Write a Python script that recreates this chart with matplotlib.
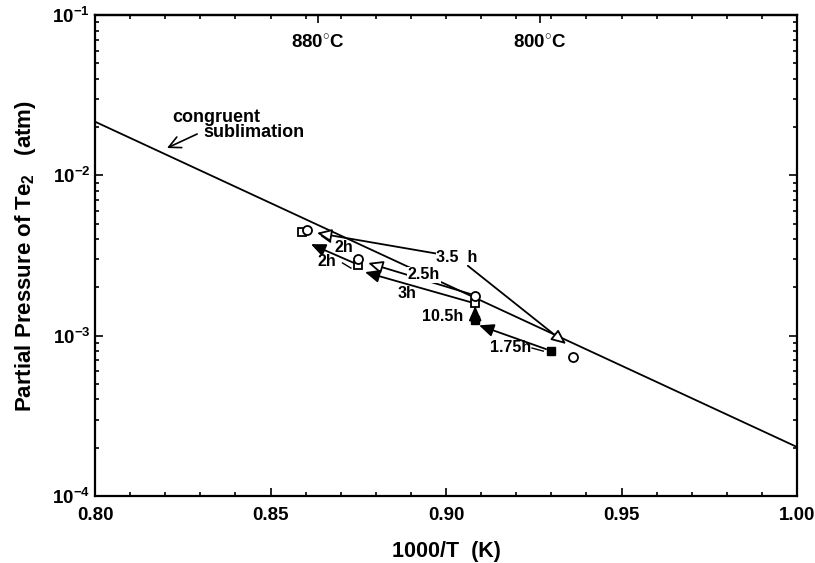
import math
import matplotlib
matplotlib.use('Agg')
import matplotlib.pyplot as plt
from matplotlib.ticker import MultipleLocator, LogLocator, NullFormatter, FixedLocator

plt.rcParams['font.family'] = ['Liberation Sans', 'DejaVu Sans']
plt.rcParams['font.weight'] = 'bold'
plt.rcParams['mathtext.fontset'] = 'custom'
plt.rcParams['mathtext.rm'] = 'Liberation Sans:bold'
plt.rcParams['mathtext.it'] = 'Liberation Sans:bold'
plt.rcParams['mathtext.bf'] = 'Liberation Sans:bold'

# congruent sublimation line
congruent_x = [0.80, 1.00]
congruent_p = [2.16e-2, 2.02e-4]

# data points
open_sq_x = [0.8590, 0.8749, 0.9083]
open_sq_p = [4.43e-3, 2.76e-3, 1.60e-3]
open_circ_x = [0.8604, 0.8749, 0.9083, 0.9362]
open_circ_p = [4.56e-3, 3.01e-3, 1.77e-3, 7.4e-4]
filled_sq_x = [0.9083, 0.9299]
filled_sq_p = [1.25e-3, 8.0e-4]

# anneal arrows: label, label pos, start, end, head filled?
arrow_labels = ['2.5h', '3h', '10.5h', '1.75h', '2h']
arrow_label_x = [0.8937, 0.8889, 0.8990, 0.9185, 0.8661]
arrow_label_p = [2.39e-3, 1.82e-3, 1.31e-3, 8.49e-4, 2.92e-3]
arrow_x0 = [0.9069, 0.9069, 0.9083, 0.9285, 0.8738]
arrow_p0 = [1.82e-3, 1.62e-3, 1.29e-3, 8.24e-4, 2.84e-3]
arrow_x1 = [0.8778, 0.8769, 0.9083, 0.9094, 0.8615]
arrow_p1 = [2.84e-3, 2.49e-3, 1.53e-3, 1.16e-3, 3.72e-3]
arrow_filled = [False, True, True, True, True]

# 3.5 h label with leaders to both open triangles
lab35_x, lab35_p = 0.9031, 3.09e-3
tri_x = [0.8632, 0.9342]
tri_p = [4.37e-3, 8.87e-4]

# upper 2h label and its leader
lab2u_x, lab2u_p = 0.8709, 3.57e-3
lead2u_x = [0.8670, 0.8647]
lead2u_p = [3.85e-3, 4.18e-3]

# little tilde leaders
tilde_x = [[0.9245, 0.9277], [0.8705, 0.8729]]
tilde_p = [[8.37e-4, 8.01e-4], [2.84e-3, 2.64e-3]]

temp_labels = ['880$^{\\circ}$C', '800$^{\\circ}$C']
temp_x = [0.8635, 0.9268]
temp_label_p = 0.0668

fig = plt.figure(figsize=(8.15, 5.63), dpi=100)
ax = fig.add_axes([0.1166, 0.119, 0.8614, 0.8544])

ax.plot(congruent_x, congruent_p, color='black', lw=1.3)

ax.plot(open_sq_x, open_sq_p, 's', ms=6, mfc='white', mec='black', mew=1.3, ls='none')
ax.plot(filled_sq_x, filled_sq_p, 's', ms=6, mfc='black', mec='black', ls='none')
ax.plot(open_circ_x, open_circ_p, 'o', ms=6.5, mfc='white', mec='black', mew=1.3, ls='none')

head = '-|>,head_length=0.8,head_width=0.35'
for i in range(len(arrow_labels)):
    if arrow_filled[i]:
        props = dict(arrowstyle=head, color='black', lw=1.3, mutation_scale=11,
                     shrinkA=0, shrinkB=0)
    else:
        props = dict(arrowstyle=head, fc='white', ec='black', lw=1.3, mutation_scale=11,
                     shrinkA=0, shrinkB=0)
    ax.annotate('', xy=(arrow_x1[i], arrow_p1[i]), xytext=(arrow_x0[i], arrow_p0[i]),
                arrowprops=props)
    bbox = dict(fc='white', ec='none', pad=0.5) if not arrow_filled[i] else None
    ax.text(arrow_label_x[i], arrow_label_p[i], arrow_labels[i], fontsize=11.5,
            fontweight='bold', ha='center', va='center', bbox=bbox)

for tx, tp in zip(tri_x, tri_p):
    ax.annotate('', xy=(tx, tp), xytext=(lab35_x, lab35_p),
                arrowprops=dict(arrowstyle=head, fc='white', ec='black', lw=1.3,
                                mutation_scale=11, shrinkA=10, shrinkB=0))
ax.text(lab35_x, lab35_p, '3.5  h', fontsize=11.5, fontweight='bold', ha='center', va='center',
        bbox=dict(fc='white', ec='none', pad=0.5))

ax.plot(lead2u_x, lead2u_p, color='black', lw=1.3)
ax.text(lab2u_x, lab2u_p, '2h', fontsize=11.5, fontweight='bold', ha='center', va='center')

for tx, tp in zip(tilde_x, tilde_p):
    ax.plot(tx, tp, color='black', lw=1.0)

ax.text(0.8220, 2.28e-2, 'congruent', fontsize=13, fontweight='bold', ha='left', va='center')
ax.text(0.8308, 1.84e-2, 'sublimation', fontsize=13, fontweight='bold', ha='left', va='center')
ax.annotate('', xy=(0.8205, 1.48e-2), xytext=(0.8291, 1.81e-2),
            arrowprops=dict(arrowstyle='->,head_length=0.6,head_width=0.3', color='black',
                            lw=1.2, mutation_scale=14, shrinkA=0, shrinkB=0))

for tl, tx in zip(temp_labels, temp_x):
    ax.text(tx, temp_label_p, tl, fontsize=13.5, fontweight='bold', ha='center', va='center')

ax.set_yscale('log')
ax.set_xlim(0.80, 1.00)
ax.set_ylim(1e-4, 1e-1)
ax.xaxis.set_major_locator(MultipleLocator(0.05))
ax.xaxis.set_minor_locator(MultipleLocator(0.01))
ax.xaxis.set_major_formatter(plt.FuncFormatter(lambda v, p: '%.2f' % v))
ax.yaxis.set_major_locator(FixedLocator([1e-4, 1e-3, 1e-2, 1e-1]))
ax.yaxis.set_major_formatter(plt.FuncFormatter(lambda v, p: '10$^{%d}$' % round(math.log10(v))))
ax.yaxis.set_minor_locator(LogLocator(base=10, subs=range(2, 10)))
ax.yaxis.set_minor_formatter(NullFormatter())

ax.tick_params(which='both', direction='in', top=False, right=True, labelsize=13.5, width=1.2)
ax.tick_params(which='major', length=6)
ax.tick_params(which='minor', length=3)
ax.tick_params(axis='x', pad=8)

sec = ax.secondary_xaxis('top')
sec.xaxis.set_major_locator(FixedLocator(temp_x))
sec.xaxis.set_minor_locator(MultipleLocator(0.01))
sec.tick_params(which='both', direction='in', labeltop=False, width=1.2)
sec.tick_params(which='major', length=6)
sec.tick_params(which='minor', length=3)

for s in ax.spines.values():
    s.set_linewidth(1.6)
sec.spines['top'].set_linewidth(1.6)

ax.set_xlabel('1000/T  (K)', fontsize=15.5, fontweight='bold', labelpad=12)
ax.set_ylabel('Partial Pressure of Te$_2$   (atm)', fontsize=16, fontweight='bold', labelpad=10)

fig.savefig('out.png', dpi=100)
